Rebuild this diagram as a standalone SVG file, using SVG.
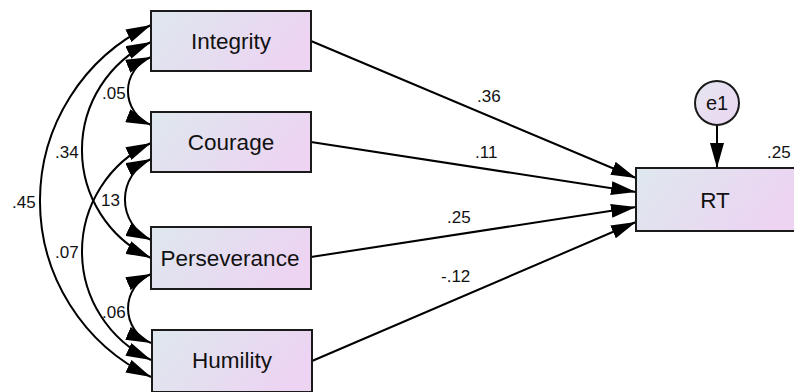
<svg xmlns="http://www.w3.org/2000/svg" width="794" height="392" viewBox="0 0 794 392">
<defs>
<linearGradient id="g" x1="0" y1="0" x2="1" y2="0.3">
<stop offset="0" stop-color="#dee8ee"/>
<stop offset="1" stop-color="#ecd4f2"/>
</linearGradient>
<linearGradient id="gc" x1="0" y1="0" x2="1" y2="1">
<stop offset="0" stop-color="#e6e6f0"/>
<stop offset="1" stop-color="#ead6f2"/>
</linearGradient>
<marker id="ah" markerUnits="userSpaceOnUse" markerWidth="25" markerHeight="14" refX="25" refY="7" orient="auto-start-reverse" viewBox="0 0 25 14">
<path d="M0,0 L25,7 L0,14 z" fill="#000"/>
</marker>
</defs>
<style>
.box{fill:url(#g);stroke:#1a1a1a;stroke-width:2}
.lbl{font-family:"Liberation Sans",Arial,sans-serif;font-size:22.5px;fill:#111;text-anchor:middle}
.num{font-family:"Liberation Sans",Arial,sans-serif;font-size:17px;fill:#111}
.c{fill:none;stroke:#000;stroke-width:2}
.one{marker-end:url(#ah)}
.two{marker-start:url(#ah);marker-end:url(#ah)}
</style>
<rect width="794" height="392" fill="#fff"/>
<g id="connectors">
<line class="c one" x1="311" y1="41" x2="636" y2="178"/>
<line class="c one" x1="311" y1="142" x2="636" y2="192"/>
<line class="c one" x1="311" y1="257" x2="636" y2="207"/>
<line class="c one" x1="312" y1="361" x2="636" y2="222"/>
<line class="c one" x1="717" y1="125" x2="717" y2="168"/>
<path class="c two" d="M151,25 A195,195 0 0 0 151,377"/>
<path class="c two" d="M151,42 A119,119 0 0 0 151,258"/>
<path class="c two" d="M151,57 A36.6,36.6 0 0 0 151,125"/>
<path class="c two" d="M151,143 A119.8,119.8 0 0 0 151,360"/>
<path class="c two" d="M151,159 A44.5,44.5 0 0 0 151,240"/>
<path class="c two" d="M151,274 A37.4,37.4 0 0 0 151,343"/>
<text class="num" x="477" y="102">.36</text>
<text class="num" x="475" y="158">.11</text>
<text class="num" x="447" y="223">.25</text>
<text class="num" x="441" y="282">-.12</text>
<text class="num" x="102" y="99">.05</text>
<text class="num" x="55" y="158">.34</text>
<text class="num" x="12" y="208">.45</text>
<text class="num" x="101" y="206">13</text>
<text class="num" x="55" y="258">.07</text>
<text class="num" x="102" y="318">.06</text>
<text class="num" x="767" y="158">.25</text>
</g>
<g id="integrity">
<rect class="box" x="151" y="11" width="160" height="60"/>
<text class="lbl" x="231" y="49">Integrity</text>
</g>
<g id="courage">
<rect class="box" x="151" y="112" width="160" height="60"/>
<text class="lbl" x="231" y="150">Courage</text>
</g>
<g id="perseverance">
<rect class="box" x="151" y="227" width="160" height="62"/>
<text class="lbl" x="230" y="266">Perseverance</text>
</g>
<g id="humility">
<rect class="box" x="152" y="330" width="160" height="62"/>
<text class="lbl" x="232" y="368">Humility</text>
</g>
<g id="rt">
<rect class="box" x="636" y="168" width="160" height="63"/>
<text class="lbl" x="715" y="208">RT</text>
</g>
<g id="e1">
<circle cx="717" cy="103" r="22" fill="url(#gc)" stroke="#1a1a1a" stroke-width="2"/>
<text class="lbl" x="717" y="110" style="font-size:20px">e1</text>
</g>
</svg>
